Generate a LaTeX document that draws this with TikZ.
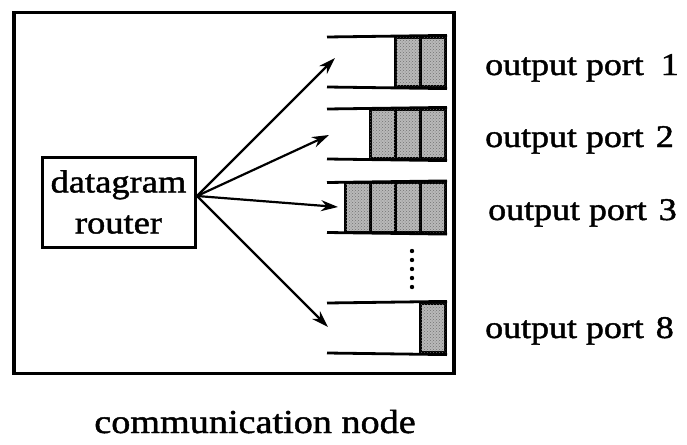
\documentclass[tikz,border=0pt]{standalone}
\usepackage{fontspec}
\setmainfont{Liberation Serif}[FakeStretch=1.14,FakeBold=1.4]
\usetikzlibrary{arrows.meta,patterns}
\begin{document}
\begin{tikzpicture}[x=1pt,y=-1pt,
  frame/.style={draw,line width=3.6pt},
  routerbox/.style={draw,line width=3pt,minimum width=153pt,minimum height=90pt,
    align=center,inner sep=0pt,font=\fontsize{32}{41}\selectfont},
  cell/.style={draw,line width=3.2pt,fill=gray!55,
    postaction={pattern=crosshatch dots,pattern color=black!55},
    minimum width=25pt,minimum height=50pt,inner sep=0pt,anchor=east},
  qline/.style={line width=2.8pt},
  link/.style={line width=2.2pt,-{Stealth[length=17pt,width=11pt]}},
  portlabel/.style={anchor=base west,inner sep=0pt,font=\fontsize{31.5}{36}\selectfont},
  caption/.style={anchor=base,inner sep=0pt,font=\fontsize{33.5}{38}\selectfont}]
\useasboundingbox (0,0) rectangle (687,444);

% enclosing communication node
\node[frame,minimum width=440pt,minimum height=361pt,inner sep=0pt] (comm) at (234,193) {};

% router
\node[routerbox] (router) at (118.5,202) {datagram\\router};
\coordinate (hub) at (197,196);

% output queues: name / vertical centre / number of occupied cells
\foreach \q/\yc/\n in {1/62/2, 2/134/3, 3/207.5/4, 8/328/1}{
  \coordinate (q\q start) at (327,\yc);
  \foreach \k in {1,...,\n}{
    \node[cell] (q\q c\k) at ({447-25*(\k-1)},\yc) {};
  }
  \draw[qline] (327,\yc-25) coordinate (q\q top) -- (q\q c1.north east);
  \draw[qline] (327,\yc+25) coordinate (q\q bot) -- (q\q c1.south east);
}

% arrows from the router into the queues
\coordinate (t1) at (335,58);
\coordinate (t2) at (329,135);
\coordinate (t3) at (338,207);
\coordinate (t8) at (328,327);
\foreach \q in {1,2,3,8}{
  \draw[link] (hub) -- (t\q);
}

% elided queues
\foreach \i in {0,...,4}{
  \fill (412,{251+9*\i}) circle (2.2pt);
}

% port labels
\node[portlabel] (p1) at (485,75) {output port\hspace{17pt}1};
\node[portlabel] (p2) at (485,147) {output port\hspace{12pt}2};
\node[portlabel] (p3) at (488,220) {output port\hspace{12pt}3};
\node[portlabel] (p8) at (485,338) {output port\hspace{12pt}8};

% caption
\node[caption] (cap) at (255,433) {communication node};
\end{tikzpicture}
\end{document}
